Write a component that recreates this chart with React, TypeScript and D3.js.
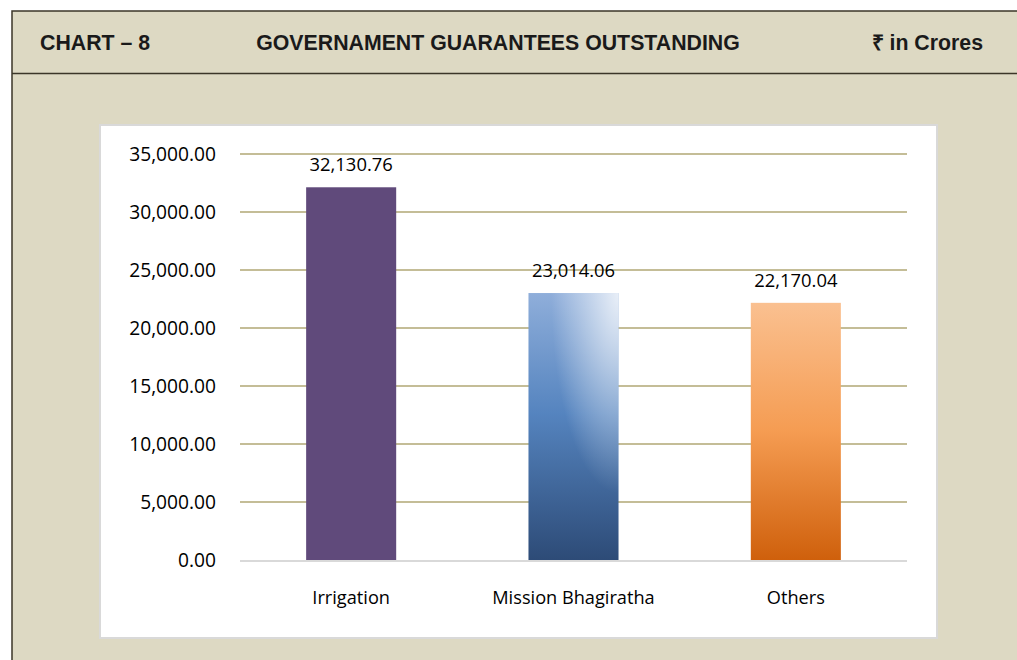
import React from "react";
import * as d3 from "d3";

const categories = ["Irrigation", "Mission Bhagiratha", "Others"];
const values = [32130.76, 23014.06, 22170.04];
const yTicks = [0, 5000, 10000, 15000, 20000, 25000, 30000, 35000];
const chartNo = "CHART – 8";
const title = "GOVERNAMENT GUARANTEES OUTSTANDING";
const unit = "₹ in Crores";

const W = 1017;
const H = 660;

export default function App() {
  const x = d3.scaleBand<string>().domain(categories).range([240, 907]).paddingInner(0.595).paddingOuter(0.2975);
  const y = d3.scaleLinear().domain([0, 35000]).range([560, 154]);
  const fmt = d3.format(",.2f");
  const fills = ["#604A7B", "url(#gBlue)", "url(#gOrange)"];
  const bodyFont = "'Open Sans', 'Noto Sans', sans-serif";
  return (
    <svg width={W} height={H} style={{ position: "absolute", left: 0, top: 0 }}>
      <defs>
        <linearGradient id="gBlue" x1="0" y1="1" x2="0" y2="0">
          <stop offset="0" stopColor="#2D4B77" />
          <stop offset="0.55" stopColor="#5584BF" />
          <stop offset="1" stopColor="#8FAEDA" />
        </linearGradient>
        <radialGradient id="gBlueHi" cx="1" cy="0" r="0.75" fx="1" fy="0">
          <stop offset="0" stopColor="#FFFFFF" stopOpacity="0.8" />
          <stop offset="1" stopColor="#FFFFFF" stopOpacity="0" />
        </radialGradient>
        <linearGradient id="gOrange" x1="0" y1="1" x2="0" y2="0">
          <stop offset="0" stopColor="#CF600C" />
          <stop offset="0.5" stopColor="#F59C52" />
          <stop offset="1" stopColor="#FAC090" />
        </linearGradient>
      </defs>
      <rect x={0} y={0} width={W} height={H} fill="#FFFFFF" />
      <rect x={12} y={11} width={W + 20} height={H + 20} fill="#DDD9C3" stroke="#3B3628" strokeWidth={1.5} />
      <line x1={12} x2={W} y1={73.5} y2={73.5} stroke="#3B3628" strokeWidth={1.5} />
      <g fontFamily="'Liberation Sans', Arial, sans-serif" fontWeight="bold" fontSize={21.3} fill="#1A1A1A">
        <text x={40} y={50}>{chartNo}</text>
        <text x={498} y={50} textAnchor="middle">{title}</text>
        <text x={983} y={50} textAnchor="end">{unit}</text>
      </g>
      <rect x={100} y={125} width={837} height={513} fill="#FFFFFF" stroke="#D9D9D9" strokeWidth={2} />
      <g>
        {yTicks.filter((t) => t > 0).map((t) => (
          <line key={t} x1={240} x2={907} y1={y(t)} y2={y(t)} stroke="#C4BD97" strokeWidth={2} />
        ))}
        <line x1={240} x2={907} y1={y(0) + 1} y2={y(0) + 1} stroke="#D9D9D9" strokeWidth={2} />
      </g>
      <g fontFamily={bodyFont} fontSize={19.2} fill="#000000">
        {yTicks.map((t) => (
          <text key={t} x={216} y={y(t)} dy="0.35em" textAnchor="end">{fmt(t)}</text>
        ))}
      </g>
      {categories.map((c, i) => (
        <g key={c}>
          <rect x={x(c)} y={y(values[i])} width={x.bandwidth()} height={y(0) - y(values[i])} fill={fills[i]} />
          {i === 1 && (
            <rect x={x(c)} y={y(values[i])} width={x.bandwidth()} height={y(0) - y(values[i])} fill="url(#gBlueHi)" />
          )}
          <text x={(x(c) as number) + x.bandwidth() / 2} y={y(values[i]) - 16} textAnchor="middle" fontFamily={bodyFont} fontSize={18.4} fill="#000000">
            {fmt(values[i])}
          </text>
          <text x={(x(c) as number) + x.bandwidth() / 2} y={604} textAnchor="middle" fontFamily={bodyFont} fontSize={18.2} fill="#000000">
            {c}
          </text>
        </g>
      ))}
    </svg>
  );
}
